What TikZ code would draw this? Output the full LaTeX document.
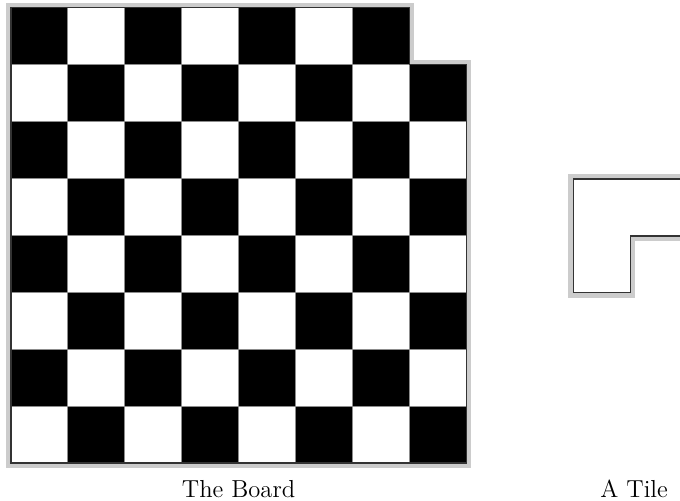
\documentclass[tikz,border=0pt]{standalone}
\usepackage{tikz}
\usetikzlibrary{positioning}
\tikzset{
  halo/.style  ={draw=gray!40,line width=5pt,line join=miter},
  rim/.style   ={draw=black!80,line width=0.6pt},
  cell/.style  ={draw=black!45,line width=0.4pt},
  dark/.style  ={cell,fill=black},
  light/.style ={cell,fill=white},
  caption/.style={font=\fontsize{12.3}{14}\selectfont,anchor=base},
}
\begin{document}
\begin{tikzpicture}
  \useasboundingbox (-0.193,-0.65) rectangle (11.757,8.137);
  % board outline, one corner square cut away
  \draw[halo] (0,0) -- (8,0) -- (8,7) -- (7,7) -- (7,8) -- (0,8) -- cycle;
  \foreach \r in {0,...,7}
    \foreach \c in {0,...,7} {
      \pgfmathtruncatemacro{\skipit}{(\r==0)&&(\c==7)}
      \ifnum\skipit=0
        \pgfmathtruncatemacro{\parity}{mod(\r+\c,2)}
        \ifnum\parity=0
          \draw[dark] (\c,7-\r) rectangle ++(1,1);
        \else
          \draw[light] (\c,7-\r) rectangle ++(1,1);
        \fi
      \fi
    }
  \draw[rim] (0,0) -- (8,0) -- (8,7) -- (7,7) -- (7,8) -- (0,8) -- cycle;
  % the L tile
  \draw[halo] (9.88,2.99) -- (10.88,2.99) -- (10.88,3.99) -- (11.88,3.99)
    -- (11.88,4.99) -- (9.88,4.99) -- cycle;
  \fill[white] (9.88,2.99) -- (10.88,2.99) -- (10.88,3.99) -- (11.88,3.99)
    -- (11.88,4.99) -- (9.88,4.99) -- cycle;
  \draw[rim] (9.88,2.99) -- (10.88,2.99) -- (10.88,3.99) -- (11.88,3.99)
    -- (11.88,4.99) -- (9.88,4.99) -- cycle;
  % captions
  \node[caption] (board) at (4,-0.6) {The Board};
  \node[caption] (tile) at (10.95,-0.6) {A Tile};
\end{tikzpicture}
\end{document}
